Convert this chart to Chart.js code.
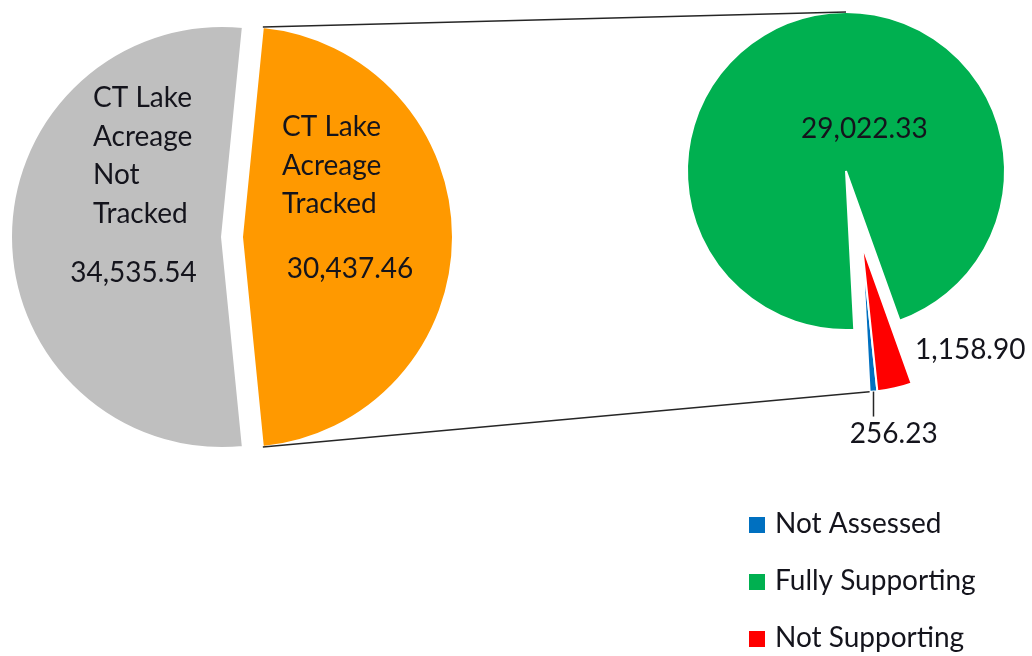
<!DOCTYPE html>
<html lang="en">
<head>
<meta charset="UTF-8" />
<title>CT Lake Acreage</title>
<script src="https://cdn.jsdelivr.net/npm/chart.js@4.4.0/dist/chart.umd.min.js"></script>
<style>
  body { margin: 0; background: #fff; }
  #wrap { position: relative; width: 1032px; height: 656px; }
  #wrap div { position: absolute; left: 0; top: 0; width: 1032px; height: 656px; }
</style>
</head>
<body>
<div id="wrap">
  <div><canvas id="leftBase"></canvas></div>
  <div><canvas id="leftOut"></canvas></div>
  <div><canvas id="rightBase"></canvas></div>
  <div><canvas id="rightOut"></canvas></div>
</div>
<script>
// main pie
const mainLabels = [['CT Lake', 'Acreage', 'Not', 'Tracked'], ['CT Lake', 'Acreage', 'Tracked']];
const mainValues = [34535.54, 30437.46];
const mainColors = ['#BFBFBF', '#FF9900'];

// secondary pie (breakdown of tracked acreage)
const subLabels = ['Not Assessed', 'Fully Supporting', 'Not Supporting'];
const subValues = [256.23, 29022.33, 1158.90];
const subColors = ['#0070C0', '#00B050', '#FF0000'];

const W = 1032, H = 656;
const TXT = '#14141c';
const FONT = '28px Lato';
const fmt = v => v.toLocaleString('en-US', { minimumFractionDigits: 2, maximumFractionDigits: 2 });

// start the grey slice so the orange one is centred on 3 o'clock
const mainTotal = mainValues[0] + mainValues[1];
const mainRotation = 90 + 180 * mainValues[1] / mainTotal;

function makePie(id, cx, cy, r, labels, values, colors, shown, rotation, extra) {
  return new Chart(document.getElementById(id), {
    type: 'pie',
    data: {
      labels: labels,
      datasets: [{
        data: values,
        backgroundColor: colors.map((c, i) => shown[i] ? c : 'rgba(0,0,0,0)'),
        borderColor: colors.map((c, i) => shown[i] ? '#ffffff' : 'rgba(0,0,0,0)'),
        borderWidth: colors.map((c, i) => shown[i] ? 2 : 0)
      }]
    },
    options: {
      responsive: true,
      maintainAspectRatio: false,
      animation: false,
      events: [],
      rotation: rotation,
      radius: r,
      layout: { padding: { left: cx - r, right: W - cx - r, top: cy - r, bottom: H - cy - r } },
      plugins: { legend: { display: false }, tooltip: { enabled: false } }
    },
    plugins: extra || []
  });
}

// text next to a slice, placed relative to the slice centroid
function sliceText(specs) {
  return {
    id: 'sliceText',
    afterDatasetsDraw(chart) {
      const ctx = chart.ctx;
      const arcs = chart.getDatasetMeta(0).data;
      ctx.save();
      ctx.font = FONT;
      ctx.fillStyle = TXT;
      ctx.textBaseline = 'alphabetic';
      specs.forEach(s => {
        const p = arcs[s.index].tooltipPosition();
        const lines = s.lines || [];
        ctx.textAlign = 'left';
        lines.forEach((t, k) => ctx.fillText(t, p.x + s.tx, p.y + s.ty + k * 38.5));
        ctx.textAlign = s.va || 'center';
        ctx.fillText(fmt(chart.data.datasets[0].data[s.index]), p.x + s.vx, p.y + s.vy);
      });
      ctx.restore();
    }
  };
}

const leftBase = makePie('leftBase', 222, 237, 211, mainLabels, mainValues, mainColors, [true, false], mainRotation,
  [sliceText([{ index: 0, lines: mainLabels[0], tx: -23.5, ty: -130, vx: 17, vy: 45 }])]);
const leftOut = makePie('leftOut', 242, 237, 211, mainLabels, mainValues, mainColors, [false, true], mainRotation,
  [sliceText([{ index: 1, lines: mainLabels[1], tx: -65.5, ty: -101, vx: 2.5, vy: 41 }])]);
const rightBase = makePie('rightBase', 846, 171, 159, subLabels, subValues, subColors, [false, true, false], 174,
  [sliceText([{ index: 1, vx: 34, vy: 45 }])]);

const overlay = {
  id: 'overlay',
  afterDraw(chart) {
    const ctx = chart.ctx;
    const orange = leftOut.getDatasetMeta(0).data[1];
    const green = rightBase.getDatasetMeta(0).data[1];
    const blue = chart.getDatasetMeta(0).data[0];
    const pt = (a, ang) => [a.x + a.outerRadius * Math.cos(ang), a.y + a.outerRadius * Math.sin(ang)];

    ctx.save();
    // connector lines between the two pies
    ctx.strokeStyle = '#262626';
    ctx.lineWidth = 1.5;
    const o1 = pt(orange, orange.startAngle), o2 = pt(orange, orange.endAngle);
    const g1 = [green.x, green.y - green.outerRadius];
    const b1 = pt(blue, blue.endAngle);
    ctx.beginPath();
    ctx.moveTo(o1[0], o1[1]); ctx.lineTo(g1[0], g1[1]);
    ctx.moveTo(o2[0], o2[1]); ctx.lineTo(b1[0], b1[1]);
    ctx.stroke();

    // leader line for the tiny blue slice
    const mid = (blue.startAngle + blue.endAngle) / 2;
    const bm = pt(blue, mid);
    ctx.beginPath();
    ctx.moveTo(bm[0], bm[1]); ctx.lineTo(bm[0], bm[1] + 25);
    ctx.stroke();

    // legend
    ctx.font = '28px Lato';
    ctx.textAlign = 'left';
    ctx.textBaseline = 'alphabetic';
    subLabels.forEach((t, i) => {
      ctx.fillStyle = subColors[i];
      ctx.fillRect(749, 517 + i * 57, 16, 16);
      ctx.fillStyle = TXT;
      ctx.fillText(t, 775, 533 + i * 57);
    });
    ctx.restore();
  }
};

const rightOut = makePie('rightOut', 862, 245, 147, subLabels, subValues, subColors, [true, false, true], 174,
  [sliceText([{ index: 2, vx: 36.7, vy: 42, va: 'left' }, { index: 0, vx: 26, vy: 125 }]), overlay]);
</script>
</body>
</html>
